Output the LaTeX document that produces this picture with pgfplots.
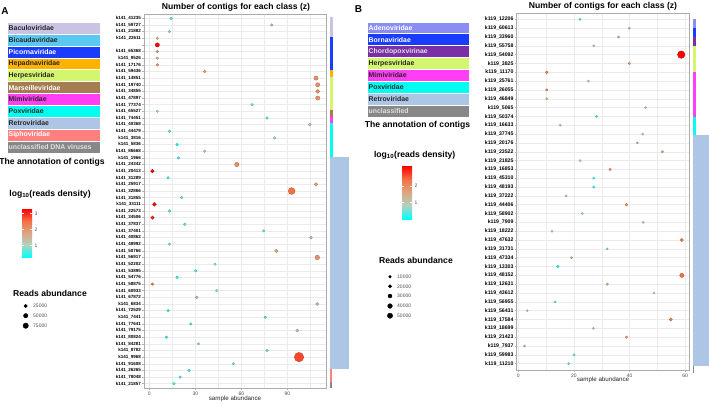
\documentclass[border=0pt]{standalone}
\usepackage{pgfplots}
\pgfplotsset{compat=1.18}
\usepackage{pgfplotstable}
\usepackage{fontspec}
\setmainfont{Liberation Sans}

\definecolor{cBac}{RGB}{203,195,227}
\definecolor{cBic}{RGB}{91,200,240}
\definecolor{cPic}{RGB}{26,60,255}
\definecolor{cHep}{RGB}{255,179,0}
\definecolor{cHer}{RGB}{212,245,110}
\definecolor{cMar}{RGB}{166,124,82}
\definecolor{cMim}{RGB}{255,62,245}
\definecolor{cPox}{RGB}{0,255,240}
\definecolor{cRet}{RGB}{173,198,229}
\definecolor{cSip}{RGB}{255,127,127}
\definecolor{cUnc}{RGB}{136,136,136}
\definecolor{cAde}{RGB}{140,140,245}
\definecolor{cBor}{RGB}{26,60,255}
\definecolor{cCho}{RGB}{123,47,166}
\definecolor{gridc}{RGB}{235,235,235}
\definecolor{txtc}{RGB}{77,77,77}
\definecolor{cm0}{RGB}{0,255,255}
\definecolor{cm1}{RGB}{175,211,191}
\definecolor{cm2}{RGB}{221,165,129}
\definecolor{cm3}{RGB}{244,112,70}
\definecolor{cm4}{RGB}{255,0,0}

\pgfplotsset{colormap={cr}{rgb255=(0,255,255) rgb255=(175,211,191) rgb255=(221,165,129) rgb255=(244,112,70) rgb255=(255,0,0)}}

\pgfplotsset{
  dotplot/.style={
    scale only axis, anchor=south west, y dir=reverse,
    axis line style={draw=gray!65, line width=0.5pt},
    xmajorgrids, ymajorgrids, xminorgrids,
    major grid style={draw=gridc, line width=0.5pt},
    minor grid style={draw=gridc, line width=0.3pt},
    tick align=outside, tick pos=left, major tick length=2pt, minor tick length=0pt,
    major tick style={draw=gray!60, line width=0.4pt},
    yticklabel style={font=\fontsize{4.5}{5}\selectfont\bfseries, text=black, inner xsep=1pt},
    xticklabel style={font=\fontsize{5}{6}\selectfont, text=txtc, inner ysep=1.5pt},
    /pgf/number format/assume math mode=true,
    colormap name=cr,
  },
  dots/.style={scatter, only marks, mark=*, point meta=\thisrow{c},
    visualization depends on={\thisrow{s} \as \msize},
    scatter/@pre marker code/.append style={/tikz/mark size=\msize}},
  seg/.style={fill=#1, draw=none},
}

\pgfplotstableread{
row x c s
1 14.2 0.7 1.3
2 79.8 1.4 1.3
3 13.1 0.8 1.3
4 5.2 1.4 1.3
5 5.2 3.27 2.1
6 5.2 2.0 1.3
7 5.2 1.5 1.3
8 5.2 2.0 1.3
9 36.1 1.8 1.4
10 108.7 2.1 2.1
11 109.8 2.1 2.1
12 109.8 2.1 1.9
13 109.8 2.1 2.1
14 67.0 0.7 1.3
15 5.2 1.0 1.2
16 76.7 0.7 1.3
17 104.6 1.3 1.5
18 13.1 0.7 1.3
19 81.7 1.0 1.3
20 18.1 0.35 1.3
21 36.1 1.0 1.3
22 18.9 0.6 1.3
23 57.0 2.1 2.2
24 2.0 3.2 1.8
25 12.2 0.6 1.3
26 108.7 1.8 1.7
27 92.8 2.5 3.4
28 21.1 0.8 1.3
29 3.3 3.2 1.9
30 13.1 0.7 1.3
31 2.0 3.0 1.7
32 23.1 0.7 1.3
33 74.6 0.7 1.3
34 105.4 1.3 1.5
35 13.1 0.9 1.3
36 82.8 1.8 1.7
37 109.5 2.1 2.3
38 42.8 0.9 1.3
39 30.2 0.6 1.3
40 18.1 0.5 1.3
41 2.0 2.5 1.3
42 43.9 0.9 1.3
43 30.9 1.4 1.4
44 109.5 1.5 1.6
45 12.2 0.6 1.3
46 75.6 0.7 1.3
47 27.0 0.6 1.3
48 96.5 1.4 1.5
49 11.1 0.6 1.3
50 32.0 1.0 1.3
51 76.7 0.8 1.3
52 97.6 2.8 4.7
53 54.8 0.8 1.3
54 25.9 0.6 1.3
55 20.0 0.6 1.3
56 16.1 0.6 1.3
}\dataA

\pgfplotstableread{
row x c s
1 22.2 0.3 1.1
2 39.9 1.1 1.1
3 36.0 1.5 1.1
4 27.1 0.9 1.1
5 58.6 3.2 3.7
6 39.9 1.8 1.2
7 10.2 2.2 1.3
8 25.2 0.9 1.1
9 10.2 2.0 1.2
10 10.2 1.3 1.1
11 45.8 1.0 1.1
12 28.1 0.4 1.1
13 15.1 0.8 1.1
14 44.7 1.1 1.1
15 42.8 1.3 1.1
16 51.8 1.6 1.2
17 22.2 0.8 1.1
18 33.0 2.0 1.2
19 27.1 0.4 1.1
20 27.1 0.4 1.1
21 17.2 0.9 1.1
22 38.9 2.0 1.3
23 23.0 0.7 1.1
24 44.9 1.0 1.1
25 12.1 0.9 1.1
26 58.8 2.3 1.6
27 31.9 0.7 1.1
28 19.1 1.5 1.1
29 14.2 0.1 1.2
30 58.8 2.4 2.1
31 32.0 1.6 1.2
32 48.8 0.9 1.1
33 13.2 0.5 1.1
34 3.2 1.2 1.0
35 54.8 2.2 1.6
36 27.0 0.9 1.1
37 38.9 1.8 1.2
38 2.2 1.1 1.0
39 20.0 0.5 1.1
40 18.1 0.5 1.1
}\dataB

\newcommand{\hdr}{\fontsize{8.6}{9}\selectfont\bfseries}
\newcommand{\lgd}{\fontsize{6.9}{7}\selectfont\bfseries}
\newcommand{\sml}{\fontsize{5}{6}\selectfont}

\begin{document}
\begin{tikzpicture}
\useasboundingbox (0,0) rectangle (709pt,-405pt);

% ---------- overlay axis in pixel units (strips, size legends)
\begin{axis}[at={(0pt,-405pt)}, anchor=south west, scale only axis,
  width=709pt, height=405pt, xmin=0, xmax=709, ymin=0, ymax=405,
  y dir=reverse, hide axis, clip=false]
% strip A
\addplot[seg=cBac] coordinates {(329.5,17) (333,17) (333,37) (329.5,37)} -- cycle;
\addplot[seg=cPic] coordinates {(329.5,37) (333,37) (333,70) (329.5,70)} -- cycle;
\addplot[seg=cHep] coordinates {(329.5,70) (333,70) (333,77) (329.5,77)} -- cycle;
\addplot[seg=cHer] coordinates {(329.5,77) (333,77) (333,110) (329.5,110)} -- cycle;
\addplot[seg=cMar] coordinates {(329.5,110) (333,110) (333,117) (329.5,117)} -- cycle;
\addplot[seg=cMim] coordinates {(329.5,117) (333,117) (333,123) (329.5,123)} -- cycle;
\addplot[seg=cPox] coordinates {(329.5,123) (333,123) (333,157) (329.5,157)} -- cycle;
\addplot[seg=cRet] coordinates {(329.5,157) (349,157) (349,369) (329.5,369)} -- cycle;
\addplot[seg=cSip] coordinates {(329.5,369) (331.5,369) (331.5,382) (329.5,382)} -- cycle;
\addplot[seg=cUnc] coordinates {(329.5,382) (331.5,382) (331.5,388) (329.5,388)} -- cycle;
% strip B
\addplot[seg=cAde] coordinates {(692.7,19) (696,19) (696,28.3) (692.7,28.3)} -- cycle;
\addplot[seg=cBor] coordinates {(692.7,28.3) (696,28.3) (696,36.5) (692.7,36.5)} -- cycle;
\addplot[seg=cCho] coordinates {(692.7,36.5) (696,36.5) (696,45.7) (692.7,45.7)} -- cycle;
\addplot[seg=cHer] coordinates {(692.7,45.7) (696,45.7) (696,71.7) (692.7,71.7)} -- cycle;
\addplot[seg=cMim] coordinates {(692.7,71.7) (696,71.7) (696,116.7) (692.7,116.7)} -- cycle;
\addplot[seg=cPox] coordinates {(692.7,116.7) (696,116.7) (696,135) (692.7,135)} -- cycle;
\addplot[seg=cRet] coordinates {(692.7,135) (709,135) (709,366) (692.7,366)} -- cycle;
\addplot[seg=cUnc] coordinates {(692.7,366) (694.2,366) (694.2,373) (692.7,373)} -- cycle;
% size legend A
\addplot[only marks, mark=*, black, mark size=1.7pt] coordinates {(25.7,306)};
\addplot[only marks, mark=*, black, mark size=2.2pt] coordinates {(25.7,315.7)};
\addplot[only marks, mark=*, black, mark size=2.7pt] coordinates {(25.7,325.7)};
% size legend B
\addplot[only marks, mark=*, black, mark size=1.35pt] coordinates {(390,276.7)};
\addplot[only marks, mark=*, black, mark size=1.65pt] coordinates {(390,286.3)};
\addplot[only marks, mark=*, black, mark size=2.0pt] coordinates {(390,296)};
\addplot[only marks, mark=*, black, mark size=2.35pt] coordinates {(390,306)};
\addplot[only marks, mark=*, black, mark size=2.65pt] coordinates {(390,315.7)};
\end{axis}

% ---------- Panel A dot plot
\begin{axis}[dotplot, at={(144pt,-388pt)}, width=182pt, height=374pt,
  xmin=-3.5, xmax=115.2, ymin=0.35, ymax=56.65,
  xtick={0,30,60,90}, minor xtick={15,45,75,105},
  ytick={1,...,56},
  yticklabels={k141\_41235, k141\_59727, k141\_21882, k141\_22611, {}, k141\_65368, k141\_9526, k141\_17176, k141\_59436, k141\_14851, k141\_19740, k141\_34855, k141\_47897, k141\_77374, k141\_65527, k141\_74451, k141\_40368, k141\_44479, k141\_3816, k141\_5836, k141\_86668, k141\_1966, k141\_24342, k141\_20413, k141\_31289, k141\_25917, k141\_32866, k141\_31855, k141\_33111, k141\_22573, k141\_34506, k141\_37837, k141\_37401, k141\_40862, k141\_48992, k141\_50766, k141\_56917, k141\_52202, k141\_53895, k141\_54776, k141\_58875, k141\_60933, k141\_67872, k141\_6834, k141\_72529, k141\_7441, k141\_77641, k141\_79175, k141\_80824, k141\_84281, k141\_8782, k141\_9968, k141\_91608, k141\_26265, k141\_78048, k141\_21857},
  point meta min=0.3, point meta max=3.27]
\addplot[dots] table[x=x, y=row] {\dataA};
\end{axis}

% ---------- Panel B dot plot
\begin{axis}[dotplot, at={(516.7pt,-370pt)}, width=172.6pt, height=356.7pt,
  xmin=-0.6, xmax=61.5, ymin=0.32, ymax=40.72,
  xtick={0,20,40,60}, minor xtick={10,30,50},
  ytick={1,...,40},
  yticklabels={k119\_12206, k119\_60613, k119\_33960, k119\_55758, k119\_54092, k119\_3825, k119\_11170, k119\_25761, k119\_26055, k119\_46849, k119\_5065, k119\_50374, k119\_16633, k119\_37745, k119\_20176, k119\_23522, k119\_21825, k119\_16853, k119\_45310, k119\_48193, k119\_37222, k119\_44406, k119\_58902, k119\_7909, k119\_18222, k119\_47632, k119\_31731, k119\_47334, k119\_13303, k119\_48152, k119\_12631, k119\_43612, k119\_56955, k119\_56431, k119\_17584, k119\_18699, k119\_21423, k119\_7937, k119\_59983, k119\_11210},
  yticklabel style={font=\fontsize{5.2}{6}\selectfont\bfseries},
  point meta min=0.05, point meta max=3.2]
\addplot[dots] table[x=x, y=row] {\dataB};
\end{axis}

% ---------- Titles and labels
\node[font=\fontsize{10}{11}\selectfont\bfseries] at (5pt,-11pt) {A};
\node[font=\fontsize{10}{11}\selectfont\bfseries] at (358.5pt,-9pt) {B};
\node[font=\hdr] at (236pt,-7pt) {Number of contigs for each class (z)};
\node[font=\hdr] at (603pt,-6pt) {Number of contigs for each class (z)};
\node[font=\fontsize{6.2}{7}\selectfont, text=black!85] at (235pt,-398.5pt) {sample abundance};
\node[font=\fontsize{6.2}{7}\selectfont, text=black!85] at (603pt,-380pt) {sample abundance};

% ---------- Legend A boxes
\foreach \c/\t/\tc [count=\i] in {cBac/Baculoviridae/black!85, cBic/Bicaudaviridae/black!85, cPic/Picornaviridae/white, cHep/Hepadnaviridae/black!85, cHer/Herpesviridae/black!85, cMar/Marseilleviridae/white, cMim/Mimiviridae/black!85, cPox/Poxviridae/black!85, cRet/Retroviridae/black!85, cSip/Siphoviridae/white, cUnc/unclassified DNA viruses/black!12}{
  \pgfmathsetmacro{\yt}{22+(\i-1)*11.9}
  \fill[\c, draw=white, line width=0.3pt] (7pt,-\yt pt) rectangle (100pt,-\yt pt-11.9pt);
  \node[anchor=west, font=\lgd, text=\tc, inner sep=0pt] at (8.5pt,-\yt pt-6.1pt) {\t};
}
\node[font=\hdr] at (52pt,-162pt) {The annotation of contigs};

% ---------- Legend B boxes
\foreach \c/\t/\tc [count=\i] in {cAde/Adenoviridae/white, cBor/Bornaviridae/white, cCho/Chordopoxvirinae/black!12, cHer/Herpesviridae/black!85, cMim/Mimiviridae/black!85, cPox/Poxviridae/black!85, cRet/Retroviridae/black!85, cUnc/unclassified/black!12}{
  \pgfmathsetmacro{\yt}{21.7+(\i-1)*11.9}
  \fill[\c, draw=white, line width=0.3pt] (367pt,-\yt pt) rectangle (469pt,-\yt pt-11.9pt);
  \node[anchor=west, font=\lgd, text=\tc, inner sep=0pt] at (368.5pt,-\yt pt-6.1pt) {\t};
}
\node[font=\hdr] at (417.5pt,-125pt) {The annotation of contigs};

% ---------- Colour bar A
\node[font=\hdr] at (50pt,-194pt) {log\textsubscript{10}(reads density)};
\shade[bottom color=cm0, top color=cm1] (22pt,-257pt) rectangle (32pt,-244.8pt);
\shade[bottom color=cm1, top color=cm2] (22pt,-245pt) rectangle (32pt,-232.8pt);
\shade[bottom color=cm2, top color=cm3] (22pt,-233pt) rectangle (32pt,-220.8pt);
\shade[bottom color=cm3, top color=cm4] (22pt,-221pt) rectangle (32pt,-209pt);
\foreach \v/\y in {1/245.7, 2/229.5, 3/213.4}{
  \draw[white, line width=0.5pt] (22pt,-\y pt) -- (24pt,-\y pt) (30pt,-\y pt) -- (32pt,-\y pt);
  \node[anchor=west, font=\sml, text=txtc, inner sep=0pt] at (34.5pt,-\y pt) {\v};
}
\node[font=\hdr] at (50pt,-293pt) {Reads abundance};
\foreach \v/\y in {25000/306, 50000/315.7, 75000/325.7}{
  \node[anchor=west, font=\sml, text=txtc, inner sep=0pt] at (33pt,-\y pt) {\v};
}

% ---------- Colour bar B
\node[font=\hdr] at (414.7pt,-155pt) {log\textsubscript{10}(reads density)};
\shade[bottom color=cm0, top color=cm1] (402pt,-219pt) rectangle (412pt,-205.6pt);
\shade[bottom color=cm1, top color=cm2] (402pt,-205.8pt) rectangle (412pt,-192.4pt);
\shade[bottom color=cm2, top color=cm3] (402pt,-192.6pt) rectangle (412pt,-179.2pt);
\shade[bottom color=cm3, top color=cm4] (402pt,-179.4pt) rectangle (412pt,-166pt);
\foreach \v/\y in {1/202.7, 2/186}{
  \draw[white, line width=0.5pt] (402pt,-\y pt) -- (404pt,-\y pt) (410pt,-\y pt) -- (412pt,-\y pt);
  \node[anchor=west, font=\sml, text=txtc, inner sep=0pt] at (414.5pt,-\y pt) {\v};
}
\node[font=\hdr] at (416pt,-260pt) {Reads abundance};
\foreach \v/\y in {10000/276.7, 20000/286.3, 30000/296, 40000/306, 50000/315.7}{
  \node[anchor=west, font=\sml, text=txtc, inner sep=0pt] at (397pt,-\y pt) {\v};
}
\end{tikzpicture}
\end{document}
